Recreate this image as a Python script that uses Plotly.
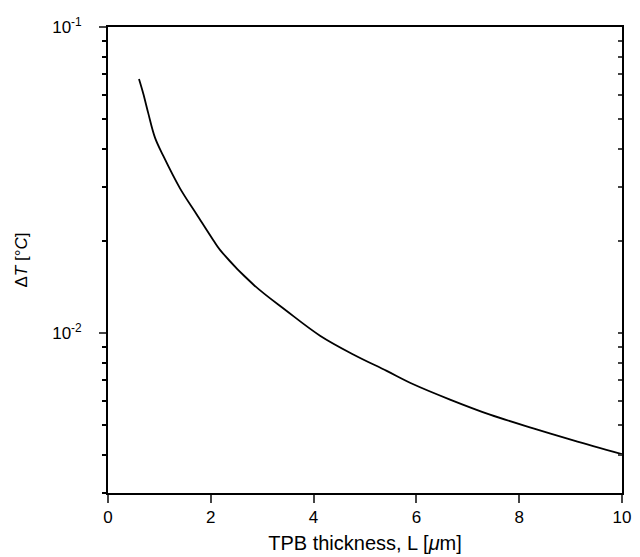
import plotly.graph_objects as go
import numpy as np

# Data
thickness_um = [0.603, 0.687, 0.784, 0.914, 1.076, 1.401, 1.726, 2.049, 2.179, 2.827,
                3.477, 4.125, 4.772, 5.422, 5.940, 6.654, 7.432, 8.274, 9.053, 10.0]
delta_T = [0.0676, 0.0605, 0.0522, 0.0435, 0.0379, 0.0297, 0.0244, 0.0201, 0.0187, 0.0144,
           0.0118, 0.00980, 0.00851, 0.00752, 0.00680, 0.00606, 0.00541, 0.00488, 0.00446, 0.00402]

x_ticks = [0, 2, 4, 6, 8, 10]
y_major = [0.1, 0.01]
y_major_text = ["10<sup>-1</sup>", "10<sup>-2</sup>"]
y_minor = [0.09, 0.08, 0.07, 0.06, 0.05, 0.04, 0.03, 0.02,
           0.009, 0.008, 0.007, 0.006, 0.005, 0.004, 0.003]

FONT = "Liberation Sans, Arial, Helvetica, sans-serif"

fig = go.Figure()
fig.add_trace(go.Scatter(x=thickness_um, y=delta_T, mode="lines",
                         line=dict(color="black", width=1.8, shape="spline", smoothing=1.0),
                         showlegend=False, hoverinfo="skip"))
# invisible trace to hold the right-side mirror axis
fig.add_trace(go.Scatter(x=[thickness_um[0]], y=[delta_T[0]], yaxis="y2", mode="markers",
                         marker=dict(opacity=0), showlegend=False, hoverinfo="skip"))

yr = [np.log10(0.003), -1]

fig.update_layout(
    width=640, height=557,
    margin=dict(l=100, r=26, t=7, b=72),
    paper_bgcolor="white", plot_bgcolor="white",
    font=dict(family=FONT, size=17, color="black"),
    xaxis=dict(range=[0, 10], tickvals=x_ticks, ticks="outside", ticklen=8, tickwidth=1.5,
               showline=True, linecolor="black", linewidth=1.8, mirror=True,
               showgrid=False, zeroline=False, tickfont=dict(size=17),
               ticklabeloverflow="allow",
               title=dict(text="TPB thickness, L [<i>μ</i>m]", font=dict(size=20), standoff=10)),
    yaxis=dict(type="log", range=yr, tickvals=y_major, ticktext=y_major_text,
               ticks="outside", ticklen=7, tickwidth=1.5, ticklabelstandoff=14,
               ticklabeloverflow="allow",
               minor=dict(tickvals=y_minor, ticks="outside", ticklen=4, tickwidth=1.5, tickcolor="black"),
               showline=True, linecolor="black", linewidth=1.8, mirror=True,
               showgrid=False, zeroline=False, tickfont=dict(size=17),
               title=dict(text="Δ<i>T</i> [°<i>C</i>]", font=dict(size=17), standoff=20)),
    yaxis2=dict(type="log", range=yr, overlaying="y", side="right",
                tickvals=y_major + y_minor, ticks="inside", ticklen=4, tickwidth=1.5,
                showticklabels=False, showline=False, showgrid=False, zeroline=False),
)

fig.write_html("out.html")
